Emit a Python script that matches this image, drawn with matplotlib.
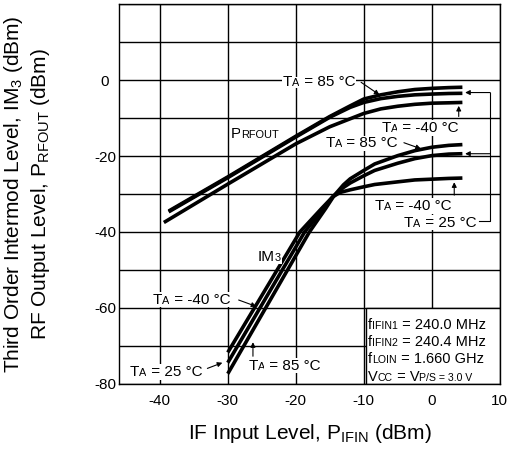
import matplotlib
matplotlib.use("Agg")
import matplotlib.pyplot as plt
from matplotlib.patches import Rectangle

plt.rcParams['font.family'] = ['Liberation Sans', 'DejaVu Sans']
plt.rcParams['mathtext.default'] = 'regular'
plt.rcParams['axes.unicode_minus'] = False

# RF output level (dBm) vs IF input level (dBm)
prf_x_hot = [-38.7, -30, -20, -15, -12, -10, -7.5, -5, -2.5, 0, 2.5, 4.5]
prf_85 = [-34.5, -25.5, -14.8, -9.6, -6.8, -5.0, -3.9, -3.1, -2.5, -2.2, -2.0, -1.9]
prf_25 = [-34.7, -25.7, -15.0, -9.8, -7.2, -5.9, -4.9, -4.3, -3.9, -3.7, -3.55, -3.5]
prf_x_cold = [-39.4, -30, -20, -15, -13, -10, -7.5, -5, -2.5, 0, 2.5, 4.5]
prf_m40 = [-37.5, -27.4, -16.8, -12.3, -10.9, -8.8, -7.6, -6.9, -6.4, -6.1, -6.0, -5.9]

# third order intermod level (dBm)
im3_x_85 = [-30, -18, -15.6, -14.4, -13, -12, -10, -8.4, -5, -2.5, 0, 2.5, 4.5]
im3_85 = [-77.3, -40, -33.8, -30.5, -27.6, -26.0, -23.8, -22.1, -19.9, -18.6, -17.7, -17.2, -17.0]
im3_x_25 = [-30, -18.7, -15.9, -14.5, -13, -12, -10, -8.4, -5, -2.5, 0, 2.5, 4.5]
im3_25 = [-74.4, -40, -33.8, -30.6, -28.3, -27.1, -25.2, -23.8, -21.9, -20.7, -19.9, -19.5, -19.4]
im3_x_m40 = [-30, -19.4, -16.2, -14.6, -13.5, -12, -10, -8.4, -5, -2.5, 0, 2.5, 4.5]
im3_m40 = [-71.7, -40, -33.8, -30.8, -29.6, -28.9, -28.1, -27.5, -26.8, -26.3, -26.1, -25.9, -25.8]

x_ticks = [-40, -30, -20, -10, 0, 10]
y_ticks = [-80, -70, -60, -50, -40, -30, -20, -10, 0, 10, 20]
y_labels = ['-80', '', '-60', '', '-40', '', '-20', '', '0', '', '']

fig = plt.figure(figsize=(5.1, 4.51), dpi=100)
ax = fig.add_axes([0.2333, 0.1486, 0.7467, 0.8425])
ax.set_xlim(-46, 10)
ax.set_ylim(-80, 20)
ax.set_xticks(x_ticks)
ax.set_yticks(y_ticks)
ax.set_yticklabels(y_labels)
ax.tick_params(length=0, labelsize=11, colors='black')
ax.tick_params(axis='x', pad=7)
ax.tick_params(axis='y', pad=10)
for t in ax.get_yticklabels():
    t.set_horizontalalignment('center')
ax.grid(True, color='black', lw=1.0)
ax.set_axisbelow(True)
for s in ax.spines.values():
    s.set_linewidth(1.0)

lw = 2.6
ax.plot(prf_x_hot, prf_85, color='black', lw=lw, solid_capstyle='butt', zorder=3)
ax.plot(prf_x_hot, prf_25, color='black', lw=lw, solid_capstyle='butt', zorder=3)
ax.plot(prf_x_cold, prf_m40, color='black', lw=lw, solid_capstyle='butt', zorder=3)
ax.plot(im3_x_85, im3_85, color='black', lw=lw, solid_capstyle='butt', zorder=3)
ax.plot(im3_x_25, im3_25, color='black', lw=lw, solid_capstyle='butt', zorder=3)
ax.plot(im3_x_m40, im3_m40, color='black', lw=lw, solid_capstyle='butt', zorder=3)

# white info box in lower right corner
ax.add_patch(Rectangle((-9.7, -80), 19.7, 20, facecolor='white', edgecolor='black',
                       lw=1.0, zorder=2))

box = dict(facecolor='white', edgecolor='none', pad=0.6)
arrow = dict(arrowstyle='-|>', color='black', lw=0.8, mutation_scale=7, shrinkA=0, shrinkB=0)


def rich(x, y, parts, size=11, bg=True):
    # parts: (text, small caps?) drawn one after another on the same baseline
    prev = None
    for txt, small in parts:
        fs = size * 0.72 if small else size
        kw = dict(fontsize=fs, va='baseline', ha='left', zorder=4)
        if bg:
            kw['bbox'] = box
        if prev is None:
            prev = ax.text(x, y, txt, **kw)
        else:
            prev = ax.annotate(txt, xy=(1, y), xycoords=(prev, 'data'), **kw)


def ta(x, y, temp, tail=None, tip=None):
    rich(x, y, [('T', False), ('A', True), (' = %s °C' % temp, False)])
    if tail is not None:
        ax.annotate('', xy=tip, xytext=tail, arrowprops=arrow, zorder=4)


ta(-21.9, -1.45, '85', (-10.4, -0.6), (-7.7, -3.9))
rich(-29.6, -15.35, [('P', False), ('RFOUT', True)])
ta(-7.4, -13.75, '-40', (3.96, -9.6), (3.96, -6.8))
ta(-15.6, -17.75, '85', (-4.1, -16.5), (-1.6, -18.1))
ta(-8.4, -34.15, '-40', (3.3, -30.3), (3.3, -26.9))
ta(-4.1, -38.6, '25')
rich(-25.6, -47.75, [('IM', False), ('3', True)])
ta(-41.0, -58.85, '-40', (-28.4, -57.9), (-25.8, -59.6))
ta(-44.4, -77.85, '25', (-33.0, -75.9), (-30.8, -74.4))
ta(-27.0, -76.25, '85', (-26.3, -72.7), (-26.3, -69.0))

# bracket for the 25 C curves
ax.plot([7.0, 8.6, 8.6], [-37.2, -37.2, -3.3], color='black', lw=0.8, zorder=4)
ax.annotate('', xy=(4.9, -3.3), xytext=(8.6, -3.3), arrowprops=arrow, zorder=4)
ax.annotate('', xy=(4.9, -19.4), xytext=(8.6, -19.4), arrowprops=arrow, zorder=4)

info = [
    [('f', False), ('IFIN1', True), (' = 240.0 MHz', False)],
    [('f', False), ('IFIN2', True), (' = 240.4 MHz', False)],
    [('f', False), ('LOIN', True), (' = 1.660 GHz', False)],
    [('V', False), ('CC', True), (' = V', False), ('P/S = 3.0 V', True)],
]
for i, parts in enumerate(info):
    rich(-9.4, -65.6 - 4.5 * i, parts, size=10.5, bg=False)

ax.set_xlabel(r'IF Input Level, P$_{IFIN}$ (dBm)', fontsize=15, labelpad=10)
ax.set_ylabel('Third Order Intermod Level, IM$_3$ (dBm)\nRF Output Level, P$_{RFOUT}$ (dBm)',
              fontsize=15, linespacing=1.25)
ax.yaxis.set_label_coords(-0.175, 0.5)

fig.savefig('out.png', dpi=100)
